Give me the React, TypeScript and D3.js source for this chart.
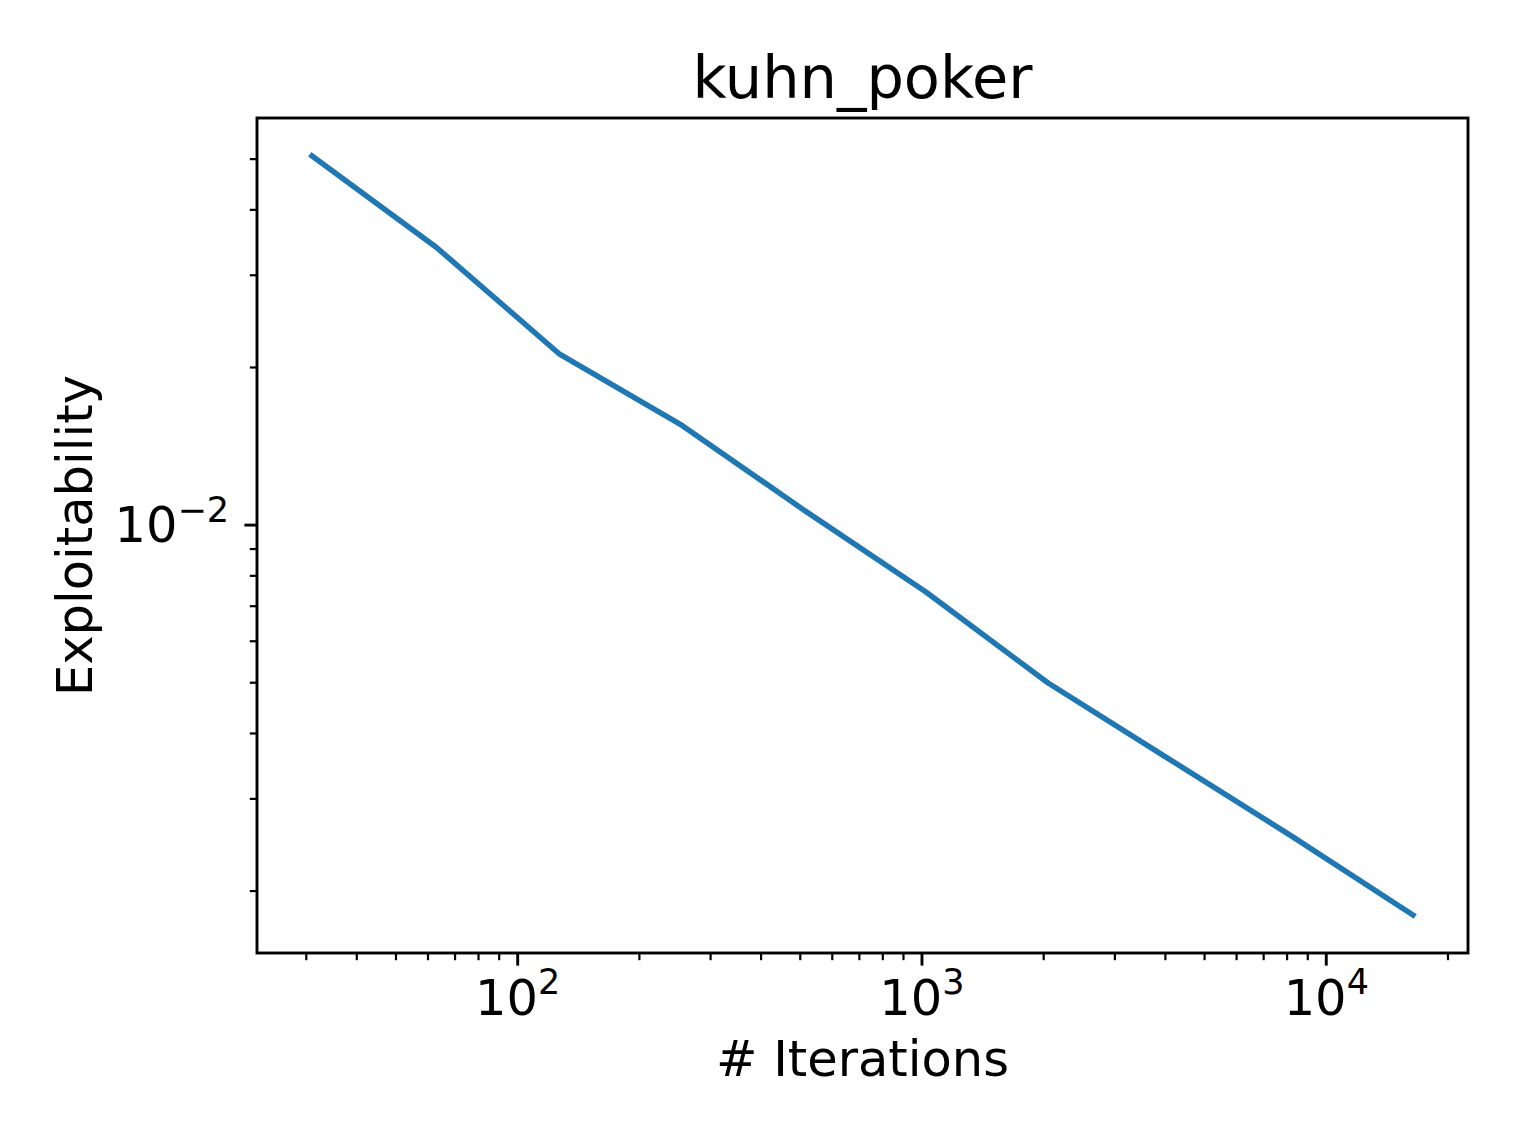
import React, { useEffect, useRef } from "react";
import * as d3 from "d3";

// data (log-log)
const iterations = [31, 63, 127, 255, 511, 1023, 2047, 4095, 8191, 16383];
const exploitability = [
  0.0507, 0.0339, 0.0212, 0.0155, 0.01068, 0.00745, 0.005, 0.00357, 0.00255,
  0.0018,
];
const xMajorTicks = [100, 1000, 10000];
const yMajorTicks = [0.01];
const chartTitle = "kuhn_poker";
const xLabel = "# Iterations";
const yLabel = "Exploitability";

// matplotlib-style autoscale: 5% margin in log space
const padLog = (vals: number[]) => {
  const [a, b] = d3.extent(vals.map(Math.log10)) as [number, number];
  const m = (b - a) * 0.05;
  return [10 ** (a - m), 10 ** (b + m)];
};

const minorTicks = (domain: number[]) => {
  const out: number[] = [];
  const lo = Math.floor(Math.log10(domain[0]));
  const hi = Math.ceil(Math.log10(domain[1]));
  for (let n = lo; n <= hi; n++) {
    for (let k = 2; k <= 9; k++) {
      const v = k * 10 ** n;
      if (v >= domain[0] && v <= domain[1]) out.push(v);
    }
  }
  return out;
};

const App = () => {
  const ref = useRef<SVGSVGElement>(null);

  useEffect(() => {
    const width = 1522;
    const height = 1141;
    const marginLeft = 257;
    const marginRight = 54;
    const marginTop = 118;
    const marginBottom = 188;
    const font = "DejaVu Sans";
    const fontSize = 49.5;
    const supSize = 35;

    const data = iterations.map((x, i) => ({ x, y: exploitability[i] }));

    const xDomain = padLog(iterations);
    const yDomain = padLog(exploitability);

    const x = d3
      .scaleLog()
      .domain(xDomain)
      .range([marginLeft, width - marginRight]);
    const y = d3
      .scaleLog()
      .domain(yDomain)
      .range([height - marginBottom, marginTop]);

    const svg = d3
      .select(ref.current)
      .attr("width", width)
      .attr("height", height)
      .attr("viewBox", [0, 0, width, height])
      .style("display", "block")
      .style("background", "#fff");
    svg.selectAll("*").remove();

    const bottom = height - marginBottom;

    // line
    const line = d3
      .line<{ x: number; y: number }>()
      .x((d) => x(d.x))
      .y((d) => y(d.y));

    svg
      .append("path")
      .datum(data)
      .attr("fill", "none")
      .attr("stroke", "#1f77b4")
      .attr("stroke-width", 5.5)
      .attr("stroke-linejoin", "round")
      .attr("stroke-linecap", "square")
      .attr("d", line);

    // x ticks
    const xTicks = svg.append("g");
    xTicks
      .selectAll("line.minor")
      .data(minorTicks(xDomain))
      .join("line")
      .attr("x1", (d) => x(d))
      .attr("x2", (d) => x(d))
      .attr("y1", bottom)
      .attr("y2", bottom + 7.2)
      .attr("stroke", "#000")
      .attr("stroke-width", 2.2);
    xTicks
      .selectAll("line.major")
      .data(xMajorTicks)
      .join("line")
      .attr("x1", (d) => x(d))
      .attr("x2", (d) => x(d))
      .attr("y1", bottom)
      .attr("y2", bottom + 12.6)
      .attr("stroke", "#000")
      .attr("stroke-width", 2.9);

    const expText = (v: number) => {
      const e = Math.round(Math.log10(v));
      return e < 0 ? `\u2212${-e}` : `${e}`;
    };

    const xt = xTicks
      .selectAll("text")
      .data(xMajorTicks)
      .join("text")
      .attr("x", (d) => x(d))
      .attr("y", bottom + 62)
      .attr("text-anchor", "middle")
      .attr("font-family", font)
      .attr("font-size", fontSize)
      .attr("fill", "#000");
    xt.append("tspan").text("10");
    xt.append("tspan")
      .attr("font-size", supSize)
      .attr("dy", -21)
      .text((d) => expText(d));

    // y ticks
    const yTicks = svg.append("g");
    yTicks
      .selectAll("line.minor")
      .data(minorTicks(yDomain))
      .join("line")
      .attr("x1", marginLeft)
      .attr("x2", marginLeft - 7.2)
      .attr("y1", (d) => y(d))
      .attr("y2", (d) => y(d))
      .attr("stroke", "#000")
      .attr("stroke-width", 2.2);
    yTicks
      .selectAll("line.major")
      .data(yMajorTicks)
      .join("line")
      .attr("x1", marginLeft)
      .attr("x2", marginLeft - 12.6)
      .attr("y1", (d) => y(d))
      .attr("y2", (d) => y(d))
      .attr("stroke", "#000")
      .attr("stroke-width", 2.9);

    const yt = yTicks
      .selectAll("text")
      .data(yMajorTicks)
      .join("text")
      .attr("x", marginLeft - 28)
      .attr("y", (d) => y(d) + 17)
      .attr("text-anchor", "end")
      .attr("font-family", font)
      .attr("font-size", fontSize)
      .attr("fill", "#000");
    yt.append("tspan").text("10");
    yt.append("tspan")
      .attr("font-size", supSize)
      .attr("dy", -20)
      .text((d) => expText(d));

    // frame
    svg
      .append("rect")
      .attr("x", marginLeft)
      .attr("y", marginTop)
      .attr("width", width - marginRight - marginLeft)
      .attr("height", bottom - marginTop)
      .attr("fill", "none")
      .attr("stroke", "#000")
      .attr("stroke-width", 2.9);

    // title and axis labels
    svg
      .append("text")
      .attr("x", (marginLeft + width - marginRight) / 2)
      .attr("y", marginTop - 20)
      .attr("text-anchor", "middle")
      .attr("font-family", font)
      .attr("font-size", 59)
      .text(chartTitle);

    svg
      .append("text")
      .attr("x", (marginLeft + width - marginRight) / 2)
      .attr("y", 1076)
      .attr("text-anchor", "middle")
      .attr("font-family", font)
      .attr("font-size", fontSize)
      .text(xLabel);

    svg
      .append("text")
      .attr("transform", `translate(92,${(marginTop + bottom) / 2}) rotate(-90)`)
      .attr("text-anchor", "middle")
      .attr("font-family", font)
      .attr("font-size", fontSize)
      .text(yLabel);
  }, []);

  return (
    <>
      <style>{"body{margin:0}"}</style>
      <svg ref={ref}></svg>
    </>
  );
};

export default App;
